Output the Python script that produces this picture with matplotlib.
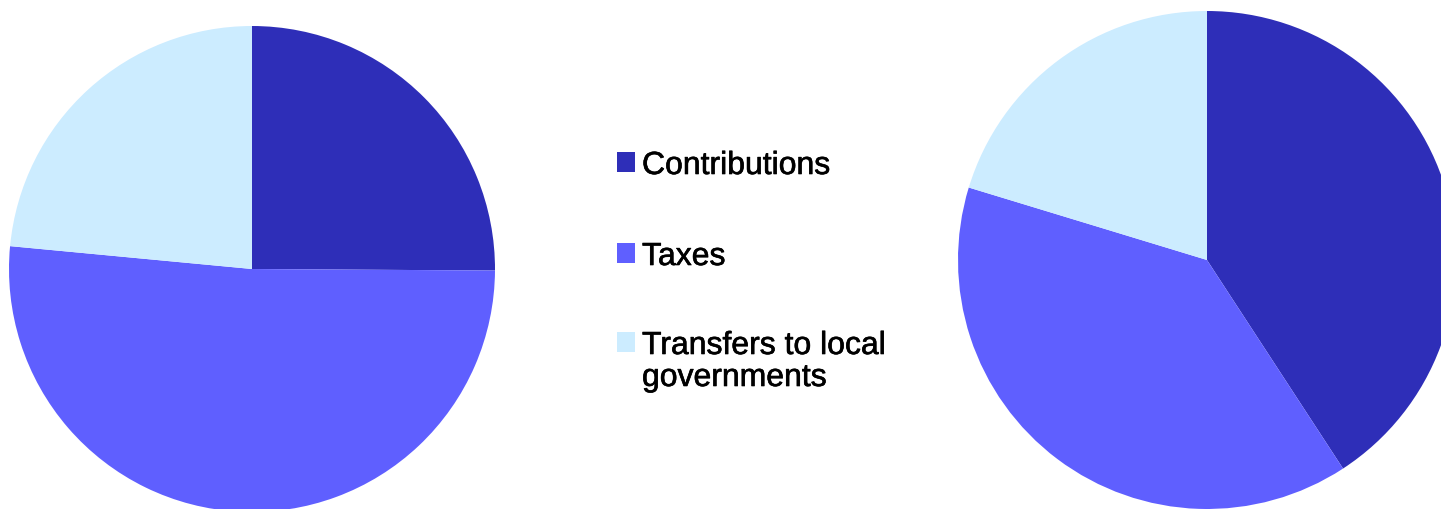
import matplotlib
matplotlib.use("Agg")
import matplotlib.pyplot as plt
import matplotlib.patheffects as pe
from matplotlib.patches import Rectangle

plt.rcParams['font.family'] = ['Liberation Sans', 'DejaVu Sans']

categories = ["Contributions", "Taxes", "Transfers to local\ngovernments"]
colors = ["#2E2EB8", "#5F5FFF", "#CCECFF"]

# shares (%) for the two pies
left_shares = [25.1, 51.4, 23.5]
right_shares = [40.8, 38.9, 20.3]

W, H = 1441, 510
fig = plt.figure(figsize=(W / 100, H / 100), dpi=100)


def pie_axes(cx, cy, r):
    # pixel centre/radius -> figure axes rect
    return fig.add_axes([(cx - r) / W, (H - cy - r) / H, 2 * r / W, 2 * r / H])


ax1 = pie_axes(252, 270, 243)
ax1.pie(left_shares, colors=colors, startangle=90, counterclock=False,
        radius=1, wedgeprops=dict(linewidth=0))

ax2 = pie_axes(1207, 261, 249)
ax2.pie(right_shares, colors=colors, startangle=90, counterclock=False,
        radius=1, wedgeprops=dict(linewidth=0))

for ax in (ax1, ax2):
    ax.set_xlim(-1, 1)
    ax.set_ylim(-1, 1)
    ax.set_aspect("equal")
    ax.axis("off")

# legend drawn by hand in the middle
heavy = [pe.withStroke(linewidth=0.45, foreground="black")]
baselines = [175, 266, 355]
for lab, col, yb in zip(categories, colors, baselines):
    fig.patches.append(Rectangle((617 / W, (H - yb + 2) / H), 18 / W, 20 / H,
                                 transform=fig.transFigure, facecolor=col,
                                 edgecolor="none"))
    lines = lab.split("\n")
    for i, line in enumerate(lines):
        fig.text(642 / W, (H - yb - 32 * i) / H, line, fontsize=23,
                 va="baseline", ha="left", color="black", path_effects=heavy)

fig.savefig("out.png", dpi=100)
